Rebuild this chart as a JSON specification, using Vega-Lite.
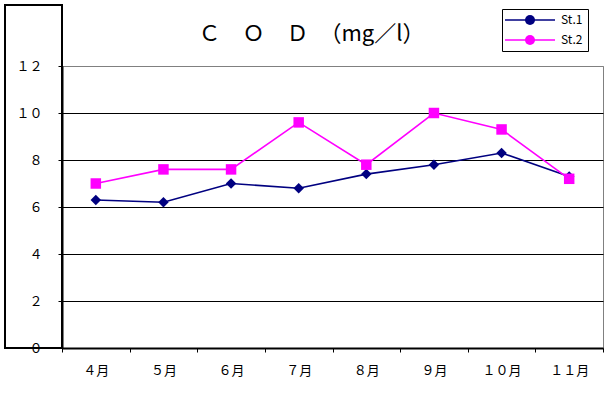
{
  "$schema": "https://vega.github.io/schema/vega-lite/v6.json",
  "width": 541,
  "height": 282,
  "autosize": {"type": "none"},
  "padding": {"left": 62, "top": 66, "right": 5, "bottom": 50},
  "background": "white",
  "title": {
    "text": "Ｃ　Ｏ　Ｄ　（mg／l）",
    "font": "Noto Sans CJK JP",
    "fontSize": 22,
    "fontWeight": "normal",
    "color": "black",
    "anchor": "middle",
    "dx": -21,
    "offset": -59,
    "baseline": "alphabetic"
  },
  "data": {
    "values": [
      {"month": "４月", "series": "St.1", "cod": 6.3},
      {"month": "５月", "series": "St.1", "cod": 6.2},
      {"month": "６月", "series": "St.1", "cod": 7.0},
      {"month": "７月", "series": "St.1", "cod": 6.8},
      {"month": "８月", "series": "St.1", "cod": 7.4},
      {"month": "９月", "series": "St.1", "cod": 7.8},
      {"month": "１０月", "series": "St.1", "cod": 8.3},
      {"month": "１１月", "series": "St.1", "cod": 7.3},
      {"month": "４月", "series": "St.2", "cod": 7.0},
      {"month": "５月", "series": "St.2", "cod": 7.6},
      {"month": "６月", "series": "St.2", "cod": 7.6},
      {"month": "７月", "series": "St.2", "cod": 9.6},
      {"month": "８月", "series": "St.2", "cod": 7.8},
      {"month": "９月", "series": "St.2", "cod": 10.0},
      {"month": "１０月", "series": "St.2", "cod": 9.3},
      {"month": "１１月", "series": "St.2", "cod": 7.2}
    ]
  },
  "encoding": {
    "x": {
      "field": "month",
      "type": "nominal",
      "sort": null,
      "scale": {"paddingInner": 0, "paddingOuter": 0},
      "axis": {
        "title": null,
        "labelAngle": 0,
        "tickBand": "extent",
        "tickSize": 4,
        "tickColor": "black",
        "domainColor": "black",
        "domainWidth": 2,
        "labelPadding": 12,
        "labelFontSize": 13,
        "grid": false
      }
    },
    "y": {
      "field": "cod",
      "type": "quantitative",
      "scale": {"domain": [0, 12], "nice": false},
      "axis": {
        "title": null,
        "values": [0, 2, 4, 6, 8, 10, 12],
        "labelExpr": "datum.value == 0 ? '０' : datum.value == 2 ? '２' : datum.value == 4 ? '４' : datum.value == 6 ? '６' : datum.value == 8 ? '８' : datum.value == 10 ? '１０' : '１２'",
        "tickSize": 4,
        "tickColor": "black",
        "domainColor": "black",
        "domainWidth": 2,
        "labelPadding": 16,
        "labelFontSize": 13,
        "grid": true,
        "gridColor": {"condition": {"test": "datum.value == 12", "value": "#808080"}, "value": "black"},
        "gridWidth": 1
      }
    }
  },
  "resolve": {"legend": {"color": "independent"}},
  "layer": [
    {
      "data": {"values": [{}]},
      "mark": {"type": "rect", "fill": null, "stroke": "black", "strokeWidth": 2, "clip": false},
      "encoding": {
        "x": {"value": -57},
        "x2": {"expr": "width + 10"},
        "y": {"value": -61},
        "y2": {"expr": "height + 46"}
      }
    },
    {
      "mark": {"type": "line", "strokeWidth": 1.6},
      "encoding": {
        "color": {
          "field": "series",
          "type": "nominal",
          "scale": {"domain": ["St.1", "St.2"], "range": ["#000080", "#FF00FF"]},
          "legend": {
            "title": null,
            "orient": "none",
            "legendX": 440,
            "legendY": -57,
            "padding": 5,
            "strokeColor": "black",
            "fillColor": null,
            "cornerRadius": 0,
            "symbolType": "M-5,0L5,0",
            "symbolSize": 100,
            "symbolStrokeWidth": 1.5,
            "symbolOffset": 17,
            "labelOffset": 25,
            "rowPadding": 8,
            "labelFontSize": 12,
            "labelColor": "black",
            "labelExpr": "datum.label + '　 '"
          }
        }
      }
    },
    {
      "mark": {"type": "point", "filled": true, "opacity": 1, "strokeWidth": 0, "size": 110},
      "encoding": {
        "color": {
          "field": "series",
          "type": "nominal",
          "legend": {
            "title": null,
            "orient": "none",
            "legendX": 440,
            "legendY": -57,
            "padding": 5,
            "strokeColor": null,
            "fillColor": null,
            "symbolSize": 100,
            "symbolStrokeWidth": 0,
            "symbolOffset": 17,
            "labelOffset": 25,
            "rowPadding": 8,
            "labelFontSize": 12,
            "labelOpacity": 0,
            "labelExpr": "datum.label + '　 '",
            "encode": {
              "symbols": {
                "update": {
                  "shape": {"signal": "datum.value == 'St.1' ? 'diamond' : 'square'"},
                  "fill": {"signal": "datum.value == 'St.1' ? '#000080' : '#FF00FF'"},
                  "opacity": {"value": 1},
                  "fillOpacity": {"value": 1}
                }
              }
            }
          }
        },
        "shape": {
          "field": "series",
          "type": "nominal",
          "scale": {"domain": ["St.1", "St.2"], "range": ["diamond", "square"]},
          "legend": null
        }
      }
    }
  ],
  "config": {
    "font": "Noto Sans CJK JP",
    "view": {"stroke": "#808080", "strokeWidth": 1},
    "axis": {"labelColor": "black", "labelFont": "Noto Sans CJK JP"},
    "legend": {"labelFont": "Noto Sans CJK JP"}
  }
}
